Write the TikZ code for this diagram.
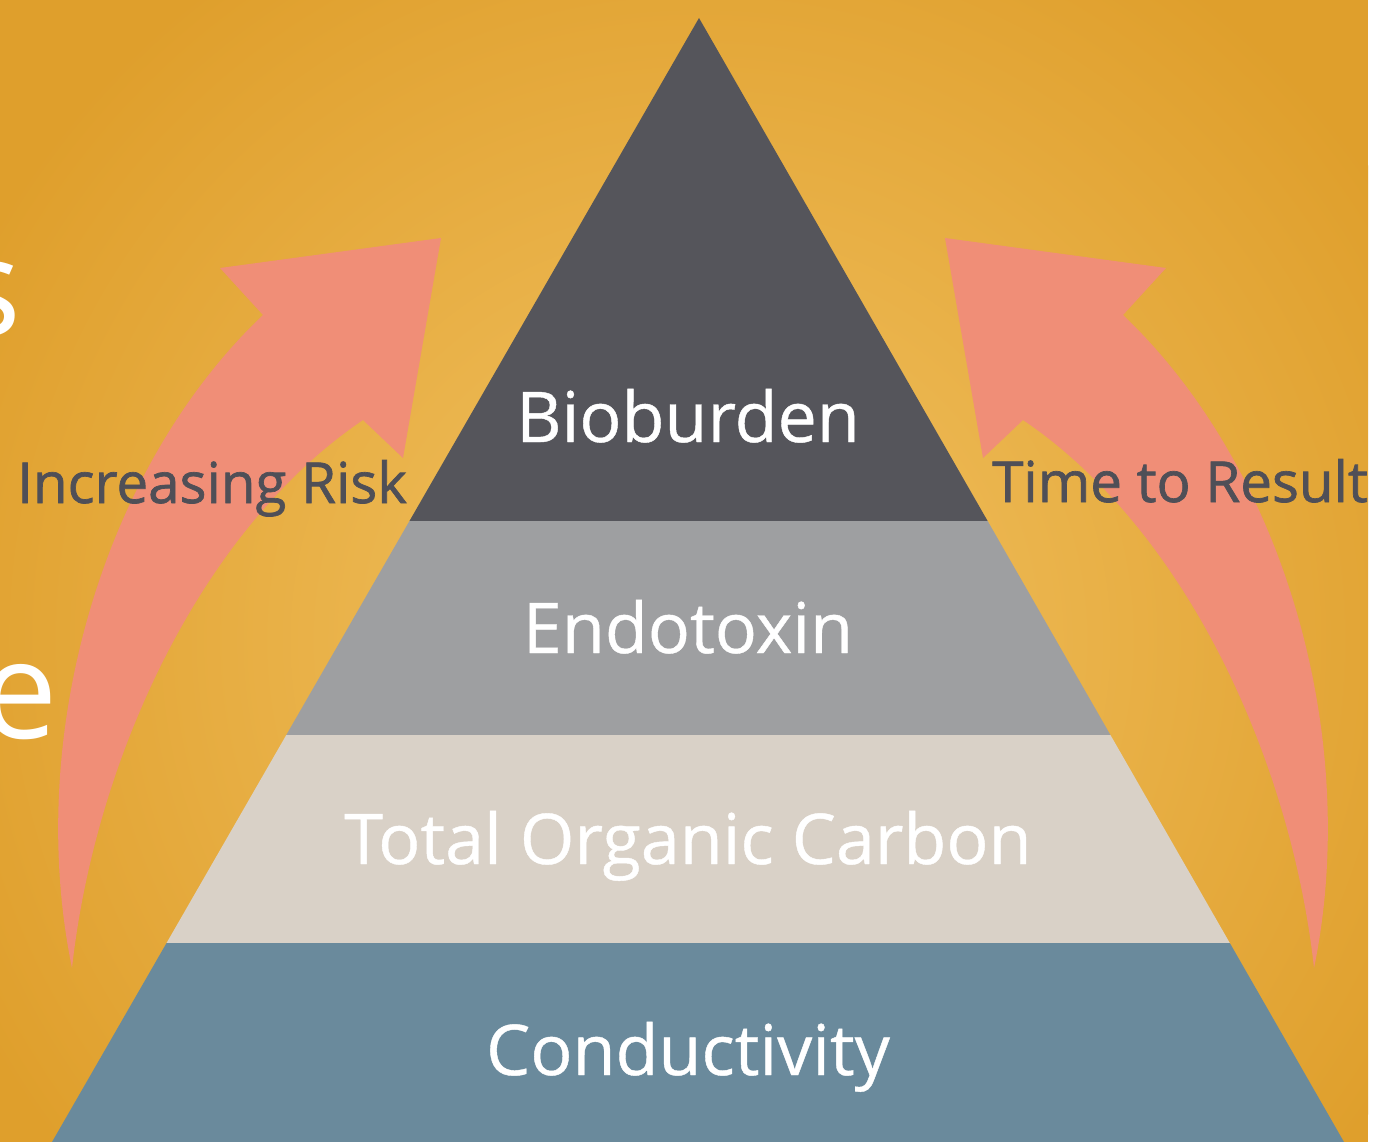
\documentclass[tikz,border=0pt]{standalone}
\usepackage{fontspec}
\setmainfont{Open Sans}
\definecolor{bgout}{HTML}{DF9F2C}
\definecolor{bgin}{HTML}{F2C262}
\definecolor{salmon}{HTML}{F08E77}
\definecolor{tipdark}{HTML}{55555B}
\definecolor{tipgray}{HTML}{9E9FA1}
\definecolor{beige}{HTML}{D9D1C7}
\definecolor{steel}{HTML}{6A8A9C}
\definecolor{sidegray}{HTML}{4F4F57}
\begin{document}
\begin{tikzpicture}[x=1pt,y=-1pt,node distance=211pt,
  band/.style={text=white, font=\fontsize{70}{70}\selectfont\addfontfeature{FakeBold=0.6}, inner sep=0pt, text height=50pt, text depth=0pt},
  side/.style={text=sidegray, font=\fontsize{56.5}{56.5}\selectfont\addfontfeature{FakeBold=1.2}, inner sep=0pt, anchor=base west},
  big/.style={text=white, font=\fontsize{136}{136}\selectfont, inner sep=0pt, anchor=base east}]
\useasboundingbox (0,0) rectangle (1375,1142);
\clip (0,0) rectangle (1375,1142);
\fill[white] (0,0) rectangle (1375,1142);

% background
\begin{scope}
  \clip (0,0) rectangle (1368,1142);
  \fill[bgout] (0,0) rectangle (1368,1142);
  \shade[inner color=bgin, outer color=bgout] (700,640) circle (820);
\end{scope}

% cut letters on the left
\node[big] (s) at (22,335) {s};
\node[big] (e) at (58,738) {e};

% arrows
\fill[salmon] (441,238) -- (403,458) -- (363,420)
  .. controls (200,530) and (95,760) .. (72,968)
  .. controls (25,740) and (100,470) .. (263,315) -- (220,268) -- cycle;
\begin{scope}[xshift=1386pt, xscale=-1]
\fill[salmon] (441,238) -- (403,458) -- (363,420)
  .. controls (200,530) and (95,760) .. (72,968)
  .. controls (25,740) and (100,470) .. (263,315) -- (220,268) -- cycle;
\end{scope}

% pyramid
\coordinate (apex) at (699,18);
\coordinate (bl) at (52,1142);
\coordinate (br) at (1344,1142);
\begin{scope}
  \clip (apex) -- (bl) -- (br) -- cycle;
  \fill[tipdark] (0,0) rectangle (1375,521);
  \fill[tipgray] (0,521) rectangle (1375,735);
  \fill[beige] (0,735) rectangle (1375,943);
  \fill[steel] (0,943) rectangle (1375,1142);
\end{scope}

\node[band] (bio) at (688,417) {Bioburden};
\node[band] (endo) [below of=bio] {Endotoxin};
\node[band] (toc) [below of=endo] {Total Organic Carbon};
\node[band] (cond) [below of=toc] {Conductivity};

\node[side] (risk) at (17,503) {Increasing Risk};
\node[side] (time) at (992,502) {Time to Result};
\end{tikzpicture}
\end{document}
